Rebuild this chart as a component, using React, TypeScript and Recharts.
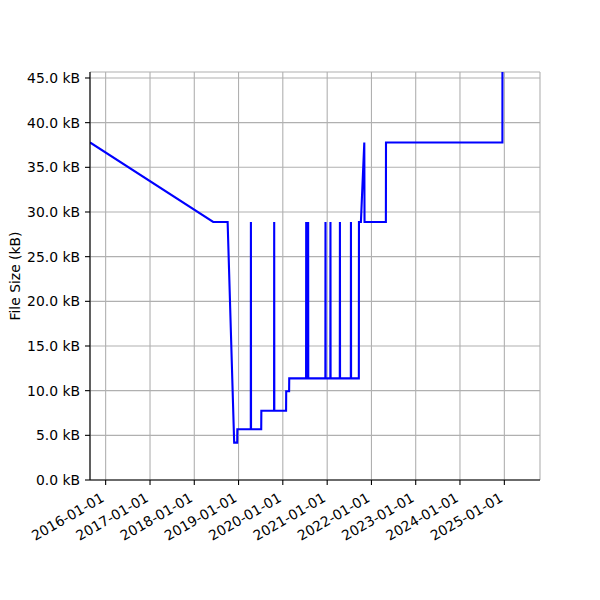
import React from 'react'
import {
  LineChart, Line, XAxis, YAxis, CartesianGrid,
} from 'recharts'

const FONT = '"DejaVu Sans", sans-serif'

// release dates and bundle size (kB)
const releaseDates = [
  '2015-08-25', '2018-06-06', '2018-10-03', '2018-11-26', '2018-12-21',
  '2018-12-22', '2019-04-12', '2019-04-13', '2019-04-14', '2019-07-07',
  '2019-07-08', '2019-10-21', '2019-10-22', '2019-10-23', '2020-01-28',
  '2020-01-29', '2020-02-22', '2020-02-23', '2020-07-11', '2020-07-12',
  '2020-07-13', '2020-07-27', '2020-07-28', '2020-07-29', '2020-12-17',
  '2020-12-18', '2020-12-19', '2021-01-27', '2021-01-28', '2021-01-29',
  '2021-04-15', '2021-04-16', '2021-04-17', '2021-07-15', '2021-07-16',
  '2021-07-17', '2021-09-19', '2021-09-20', '2021-10-06', '2021-11-03',
  '2021-11-05', '2022-04-30', '2022-05-01', '2024-12-16', '2024-12-17',
]
const fileSizesKb = [
  37.78, 28.88, 28.88, 4.18, 4.18,
  5.68, 5.68, 28.88, 5.68, 5.68,
  7.76, 7.76, 28.88, 7.76, 7.76,
  9.93, 9.93, 11.38, 11.38, 28.88,
  11.38, 11.38, 28.88, 11.38, 11.38,
  28.88, 11.38, 11.38, 28.88, 11.38,
  11.38, 28.88, 11.38, 11.38, 28.88,
  11.38, 11.38, 28.88, 28.88, 37.78,
  28.88, 28.88, 37.78, 37.78, 60.0,
]

const xTickDates = [
  '2016-01-01', '2017-01-01', '2018-01-01', '2019-01-01', '2020-01-01',
  '2021-01-01', '2022-01-01', '2023-01-01', '2024-01-01', '2025-01-01',
]
const yTicks = [0, 5, 10, 15, 20, 25, 30, 35, 40, 45]

const toTime = (s: string) => {
  const [y, m, d] = s.split('-').map(Number)
  return Date.UTC(y, m - 1, d)
}

const data = releaseDates.map((d, i) => ({ t: toTime(d), size: fileSizesKb[i] }))
const xDomain = [toTime('2015-08-25'), toTime('2025-10-22')]
const yDomain = [0, 45.67]

const fmtDate = (t: number) => new Date(t).toISOString().slice(0, 10)

const DateTick = (props: any) => {
  const { x, y, payload } = props
  const tx = x - 0.5
  const ty = y + 10.7
  return (
    <text x={tx} y={ty} textAnchor="end" fill="#000" fontSize={13.9}
      fontFamily={FONT} transform={`rotate(-30, ${tx}, ${ty})`}>
      {fmtDate(payload.value)}
    </text>
  )
}

const YTitle = (props: any) => {
  const vb = props.viewBox
  const x = vb.x + 20
  const y = vb.y + vb.height / 2
  return (
    <text x={x} y={y} textAnchor="middle" fill="#000" fontSize={13.9}
      fontFamily={FONT} transform={`rotate(-90, ${x}, ${y})`}>
      File Size (kB)
    </text>
  )
}

export default function App() {
  return (
    <div style={{ position: 'absolute', left: 0, top: 0, width: 600, height: 600, background: '#fff' }}>
      <LineChart width={600} height={600} data={data}
        margin={{ top: 72, right: 60, bottom: 0, left: 0 }}>
        <CartesianGrid stroke="#b0b0b0" strokeWidth={1.1} />
        <XAxis dataKey="t" type="number" scale="linear" domain={xDomain}
          allowDataOverflow ticks={xTickDates.map(toTime)} height={120}
          tick={<DateTick />} tickSize={5} tickMargin={5}
          stroke="#000" strokeWidth={1.1} interval={0} />
        <XAxis xAxisId="top" orientation="top" type="number" domain={[0, 1]}
          height={0} tick={false} tickLine={false} stroke="#000" strokeWidth={1.1} />
        <YAxis type="number" domain={yDomain} allowDataOverflow ticks={yTicks}
          width={90} tickSize={5} tickMargin={5} interval={0}
          tickFormatter={(v: number) => `${v.toFixed(1)} kB`}
          tick={{ fill: '#000', fontSize: 13.9, fontFamily: FONT }}
          stroke="#000" strokeWidth={1.1} label={YTitle} />
        <YAxis yAxisId="right" orientation="right" type="number" domain={[0, 1]}
          width={0} tick={false} tickLine={false} stroke="#000" strokeWidth={1.1} />
        <Line type="linear" dataKey="size" stroke="#0000ff" strokeWidth={2.1}
          dot={false} activeDot={false} isAnimationActive={false} />
      </LineChart>
    </div>
  )
}
